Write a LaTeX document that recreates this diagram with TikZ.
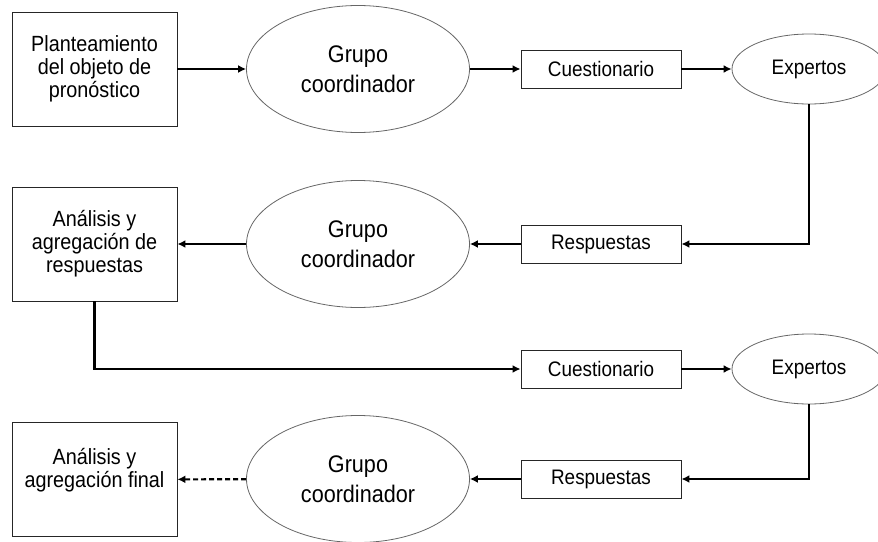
\documentclass[tikz,border=0pt]{standalone}
\usepackage{fontspec}
\setmainfont[FakeStretch=0.9]{Liberation Sans}
\usetikzlibrary{shapes.geometric,arrows.meta}
\begin{document}
\begin{tikzpicture}
[x=1pt,y=-1pt,
  bigbox/.style={shape=rectangle,draw=black!85,line width=0.9pt,
    minimum width=165pt,minimum height=114pt,inner sep=0pt,align=center,
    font=\fontsize{22}{23}\selectfont},
  smallbox/.style={shape=rectangle,draw=black!85,line width=0.9pt,
    minimum width=160pt,minimum height=38pt,inner sep=0pt,
    font=\fontsize{21}{23}\selectfont},
  groupdecorate/.style={shape=ellipse,draw=black!60,line width=0.8pt,
    minimum width=223pt,minimum height=127pt,inner sep=0pt,align=center,
    font=\fontsize{24}{29.5}\selectfont},
  expertdecorate/.style={shape=ellipse,draw=black!60,line width=0.8pt,
    minimum width=154pt,minimum height=70pt,inner sep=0pt,
    font=\fontsize{21}{23}\selectfont},
  linedecorate/.style={-{Latex[length=8pt,width=8pt]},line width=2.1pt}]
\useasboundingbox (0,0) rectangle (878,541);
%% boxes on the left
\node (plan) at (94.5,69) [bigbox] {Planteamiento\\del objeto de\\pronóstico};
\node (anal) at (94.5,244) [bigbox] {Análisis y\\agregación de\\respuestas};
\node (final) at (94.5,479.5) [bigbox] {Análisis y\\agregación final\\ \mbox{}};
%% group ellipses
\foreach \nodename/\y in {grupoa/69, grupob/244, grupoc/479} {
  \node (\nodename) at (358,\y) [groupdecorate] {Grupo\\coordinador};
}
%% questionnaires and answers
\foreach \nodename/\y/\word in {cuesta/69/Cuestionario, respa/244/Respuestas,
  cuestb/369/Cuestionario, respb/479/Respuestas} {
  \node (\nodename) at (601,\y) [smallbox] {\word};
}
%% experts
\foreach \nodename/\y in {expa/69, expb/369} {
  \node (\nodename) at (809,\y) [expertdecorate] {Expertos};
}
%% edges or lines
\path
\foreach \startnode/\endnode in {plan/grupoa, grupoa/cuesta, cuesta/expa,
  respa/grupob, grupob/anal, cuestb/expb, respb/grupoc} {
  (\startnode) edge[linedecorate] (\endnode)
};
\draw[linedecorate] (expa) |- (respa);
\draw[linedecorate] (anal) |- (cuestb);
\draw[linedecorate] (expb) |- (respb);
\draw[linedecorate,dash pattern=on 5pt off 3pt] (grupoc) -- (final);
\end{tikzpicture}
\end{document}
